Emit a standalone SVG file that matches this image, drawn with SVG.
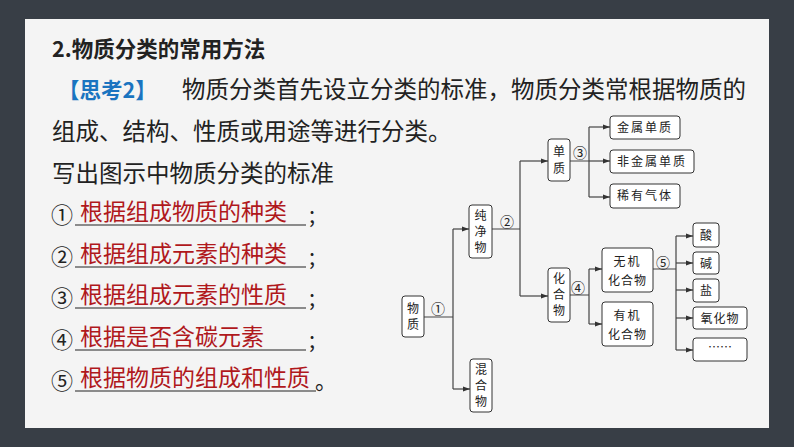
<svg xmlns="http://www.w3.org/2000/svg" width="794" height="447" viewBox="0 0 794 447">
<style>
.t{font-family:"Noto Sans CJK SC",sans-serif;fill:#222}
.b{fill:#fff;stroke:#333;stroke-width:1}
.n{font-family:"Noto Sans CJK SC",sans-serif;font-size:12px;fill:#222;text-anchor:middle}
.m{font-family:"Noto Sans CJK SC",sans-serif;font-size:14px;fill:#222;text-anchor:middle}
.c{fill:none;stroke:#444;stroke-width:1.2}
.r{font-family:"Noto Sans CJK SC",sans-serif;font-size:23px;fill:#b0181c}
.u{stroke:#222;stroke-width:1.2}
</style>
<defs><marker id="a" viewBox="0 0 6 6" refX="6" refY="3" markerWidth="6" markerHeight="6" orient="auto"><path d="M0,0.8L6,3L0,5.2z" fill="#333"/></marker></defs>
<rect width="794" height="447" fill="#383e46"/>
<rect x="25" y="19" width="744" height="409" fill="#f4f4f4"/>
<text class="t" x="52" y="57" font-size="21.5" font-weight="bold">2.物质分类的常用方法</text>
<text class="t" x="58" y="98" font-size="21.5" font-weight="bold" style="fill:#1a74c0">【思考2】</text>
<text class="t" x="182" y="98" font-size="23.5">物质分类首先设立分类的标准，物质分类常根据物质的</text>
<text class="t" x="52" y="140" font-size="23.5">组成、结构、性质或用途等进行分类。</text>
<text class="t" x="52" y="182" font-size="23.5">写出图示中物质分类的标准</text>
<g id="answers">
<text class="t" x="51" y="223" font-size="22">①</text><text class="r" x="80" y="220">根据组成物质的种类</text><line class="u" x1="75" y1="225" x2="306" y2="225"/><text class="t" x="309" y="223" font-size="22">;</text>
<text class="t" x="51" y="265" font-size="22">②</text><text class="r" x="80" y="262">根据组成元素的种类</text><line class="u" x1="75" y1="267" x2="306" y2="267"/><text class="t" x="309" y="265" font-size="22">;</text>
<text class="t" x="51" y="306" font-size="22">③</text><text class="r" x="80" y="303">根据组成元素的性质</text><line class="u" x1="75" y1="308" x2="306" y2="308"/><text class="t" x="309" y="306" font-size="22">;</text>
<text class="t" x="51" y="348" font-size="22">④</text><text class="r" x="80" y="345">根据是否含碳元素</text><line class="u" x1="75" y1="350" x2="306" y2="350"/><text class="t" x="309" y="348" font-size="22">;</text>
<text class="t" x="51" y="389" font-size="22">⑤</text><text class="r" x="80" y="386">根据物质的组成和性质</text><line class="u" x1="75" y1="391" x2="316" y2="391"/><text class="t" x="315" y="389" font-size="22">。</text>
</g>
<g id="connectors">
<path class="c" d="M424,317H453M453,229V389"/>
<path class="c" d="M453,229H469" marker-end="url(#a)"/>
<path class="c" d="M453,389H470" marker-end="url(#a)"/>
<path class="c" d="M492,229H520M520,161V296"/>
<path class="c" d="M520,161H548" marker-end="url(#a)"/>
<path class="c" d="M520,296H548" marker-end="url(#a)"/>
<path class="c" d="M570,161H589M589,127V197"/>
<path class="c" d="M589,127H610" marker-end="url(#a)"/>
<path class="c" d="M589,161H610" marker-end="url(#a)"/>
<path class="c" d="M589,197H610" marker-end="url(#a)"/>
<path class="c" d="M570,295H589M589,269V324"/>
<path class="c" d="M589,269H602" marker-end="url(#a)"/>
<path class="c" d="M589,324H602" marker-end="url(#a)"/>
<path class="c" d="M653,269H676M676,236V350"/>
<path class="c" d="M676,236H693" marker-end="url(#a)"/>
<path class="c" d="M676,263H693" marker-end="url(#a)"/>
<path class="c" d="M676,290H693" marker-end="url(#a)"/>
<path class="c" d="M676,318H693" marker-end="url(#a)"/>
<path class="c" d="M676,350H693" marker-end="url(#a)"/>
<text class="m" x="438" y="314">①</text>
<text class="m" x="507" y="227">②</text>
<text class="m" x="580" y="158">③</text>
<text class="m" x="578" y="293">④</text>
<text class="m" x="663" y="268">⑤</text>
</g>
<g id="wuzhi"><rect class="b" x="402" y="296" width="22" height="41" rx="3"/><text class="n" x="413" y="313">物</text><text class="n" x="413" y="329">质</text></g>
<g id="chunjingwu"><rect class="b" x="469" y="205" width="23" height="53" rx="3"/><text class="n" x="480.5" y="220">纯</text><text class="n" x="480.5" y="236">净</text><text class="n" x="480.5" y="252">物</text></g>
<g id="hunhewu"><rect class="b" x="470" y="359" width="22" height="53" rx="3"/><text class="n" x="481" y="374">混</text><text class="n" x="481" y="390">合</text><text class="n" x="481" y="406">物</text></g>
<g id="danzhi"><rect class="b" x="548" y="139" width="22" height="42" rx="3"/><text class="n" x="559" y="156">单</text><text class="n" x="559" y="173">质</text></g>
<g id="huahewu"><rect class="b" x="548" y="268" width="22" height="54" rx="3"/><text class="n" x="559" y="283">化</text><text class="n" x="559" y="299">合</text><text class="n" x="559" y="315">物</text></g>
<g id="jinshu"><rect class="b" x="610" y="116" width="70" height="23" rx="3"/><text class="n" x="645" y="132" letter-spacing="2">金属单质</text></g>
<g id="feijinshu"><rect class="b" x="610" y="150" width="84" height="23" rx="3"/><text class="n" x="652" y="166" letter-spacing="2">非金属单质</text></g>
<g id="xiyou"><rect class="b" x="610" y="184" width="70" height="24" rx="3"/><text class="n" x="645" y="200" letter-spacing="2">稀有气体</text></g>
<g id="wuji"><rect class="b" x="602" y="248" width="51" height="44" rx="3"/><text class="n" x="627.5" y="266" letter-spacing="2">无机</text><text class="n" x="627.5" y="285" letter-spacing="1">化合物</text></g>
<g id="youji"><rect class="b" x="602" y="302" width="51" height="44" rx="3"/><text class="n" x="627.5" y="320" letter-spacing="2">有机</text><text class="n" x="627.5" y="339" letter-spacing="1">化合物</text></g>
<g id="suan"><rect class="b" x="693" y="223" width="26" height="24" rx="3"/><text class="n" x="706" y="240">酸</text></g>
<g id="jian"><rect class="b" x="693" y="252" width="26" height="22" rx="3"/><text class="n" x="706" y="268">碱</text></g>
<g id="yan"><rect class="b" x="693" y="279" width="26" height="23" rx="3"/><text class="n" x="706" y="295">盐</text></g>
<g id="yanghuawu"><rect class="b" x="693" y="307" width="54" height="22" rx="3"/><text class="n" x="720" y="323" letter-spacing="1">氧化物</text></g>
<g id="more"><rect class="b" x="693" y="338" width="54" height="23" rx="3"/><text class="n" x="720" y="352">……</text></g>
</svg>
